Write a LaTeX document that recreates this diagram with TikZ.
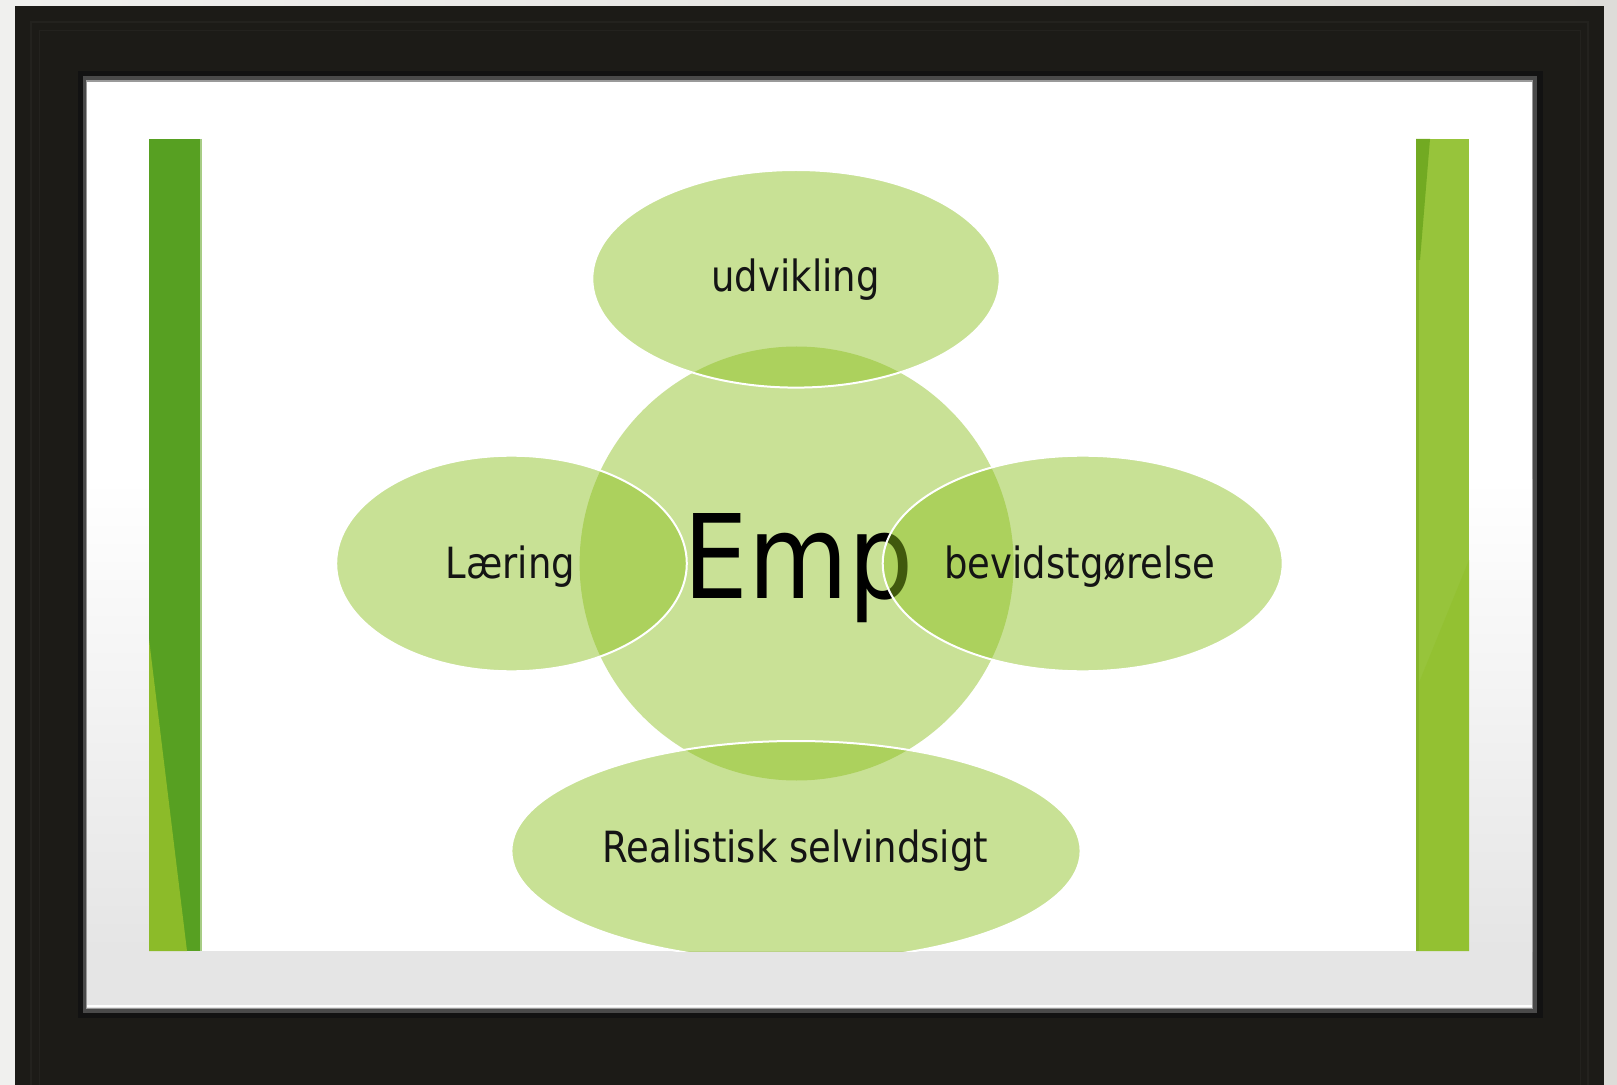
\documentclass[tikz,border=0pt]{standalone}
\usepackage{fontspec}
\newfontfamily\labfont[FakeStretch=0.86]{DejaVu Sans}
\newfontfamily\empfont[FakeStretch=0.88]{DejaVu Sans}
\definecolor{outerbgL}{HTML}{F0F0EE}
\definecolor{outerbgR}{HTML}{DDDCD8}
\definecolor{framecol}{HTML}{1C1B17}
\definecolor{frameline}{HTML}{23221E}
\definecolor{bevdark}{HTML}{121212}
\definecolor{bevgray}{HTML}{4A4A4A}
\definecolor{bevlight}{HTML}{9A9A9A}
\definecolor{bggray}{HTML}{E5E5E5}
\definecolor{bardark}{HTML}{57A022}
\definecolor{barlight}{HTML}{8CBB29}
\definecolor{baredge}{HTML}{A6CC84}
\definecolor{rbar}{HTML}{97C43B}
\definecolor{rbarlow}{HTML}{93C132}
\definecolor{rbaredge}{HTML}{86B52C}
\definecolor{rbardark}{HTML}{72AA22}
\definecolor{circfill}{HTML}{C9E196}
\definecolor{petalgreen}{HTML}{8BBF1D}
\definecolor{textblack}{HTML}{141414}
\begin{document}
\begin{tikzpicture}[x=0.5pt,y=-0.5pt,
  petal/.style={fill=petalgreen, fill opacity=0.465, draw=white, draw opacity=1, line width=1pt},
  lab/.style={font=\labfont\fontsize{21.5}{24}\selectfont, text=textblack, inner sep=0pt, anchor=base},
  emplab/.style={font=\empfont\fontsize{58.3}{64}\selectfont, text=black, inner sep=0pt, anchor=base}]
\useasboundingbox (0,0) rectangle (1617,1085);
% outer background
\shade[left color=outerbgL, right color=outerbgR] (0,0) rectangle (1617,1085);
% frame
\fill[framecol] (15,6) rectangle (1604,1085);
\draw[frameline, line width=0.6pt] (31,22) rectangle (1588,1100);
\draw[frameline, line width=0.4pt] (39,30) rectangle (1580,1100);
% opening bevel
\fill[bevdark] (78,71) rectangle (1543,1018);
\fill[bevgray] (83,76) rectangle (1537,1013);
\fill[bevlight] (86,80) rectangle (1533,1009);
% opening background gradient
\fill[white] (87,82) rectangle (1532,481);
\shade[top color=white, bottom color=bggray] (87,480) rectangle (1532,951);
\fill[bggray] (87,950) rectangle (1532,1008);
\draw[white, line width=1pt] (87,1006) -- (1532,1006);
% slide white area
\fill[white] (201,82) rectangle (1416,951);
% left bar
\fill[bardark] (149,139) rectangle (200,951);
\fill[barlight] (149,639) -- (149,951) -- (187,951) -- cycle;
\draw[baredge, line width=0.8pt] (200.8,139) -- (200.8,951);
% right bar
\fill[rbar] (1416,139) rectangle (1469,951);
\fill[rbarlow] (1416,690) -- (1469,560) -- (1469,951) -- (1416,951) -- cycle;
\fill[rbaredge] (1416,139) rectangle (1419,951);
\fill[rbardark] (1416,139) -- (1430,139) -- (1420,260) -- (1416,260) -- cycle;
% diagram
\begin{scope}
\clip (87,82) rectangle (1532,951);
\fill[circfill] (796.6,563.5) circle [radius=217];
\node[emplab] (emp) at (798.5,598) {Emp};
\filldraw[petal] (796,278.8) ellipse [x radius=203.7, y radius=108.8];
\filldraw[petal] (511.5,563.5) ellipse [x radius=175.3, y radius=107.8];
\filldraw[petal] (1082.7,563.5) ellipse [x radius=200, y radius=107.8];
\filldraw[petal] (796,851) ellipse [x radius=284.6, y radius=110];
\end{scope}
\node[lab] (udv) at (795.5,292) {udvikling};
\node[lab] (laer) at (510.5,578) {Læring};
\node[lab] (bev) at (1080,578) {bevidstgørelse};
\node[lab] (real) at (795.5,862) {Realistisk selvindsigt};
\end{tikzpicture}
\end{document}
